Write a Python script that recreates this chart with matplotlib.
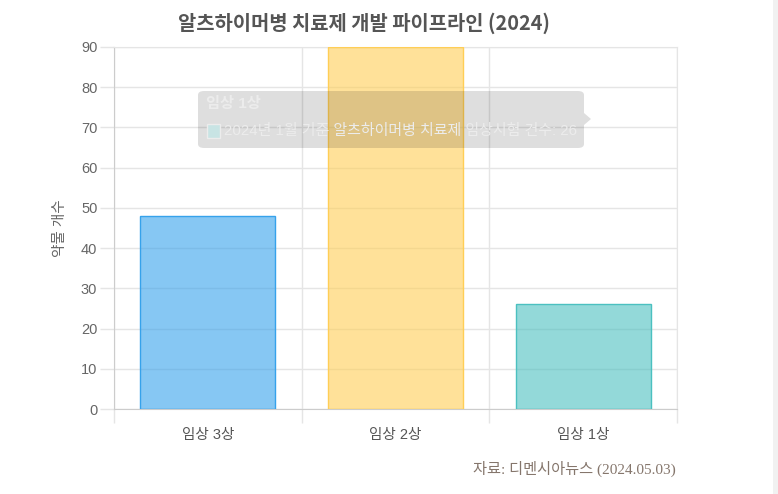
import matplotlib
matplotlib.use('Agg')
import matplotlib.pyplot as plt
from matplotlib.patches import FancyBboxPatch, Rectangle, Polygon

plt.rcParams['font.family'] = ['Liberation Sans', 'Noto Sans CJK KR', 'DejaVu Sans']

# Data
phases = ['임상 3상', '임상 2상', '임상 1상']
counts = [48, 90, 26]
fill_colors = ['#36a2eb', '#ffce56', '#4bc0c0']
edge_colors = ['#36a2eb', '#ffce56', '#4bc0c0']
y_ticks = list(range(0, 100, 10))

title = '알츠하이머병 치료제 개발 파이프라인 (2024)'
y_label = '약물 개수'
source = '자료: 디멘시아뉴스 (2024.05.03)'
tip_title = '임상 1상'
tip_body = '2024년 1월 기준 알츠하이머병 치료제 임상시험 건수: 26'

W, H = 778, 494
fig = plt.figure(figsize=(W / 100, H / 100), dpi=100)


def fx(x):
    return x / W


def fy(y):
    return 1 - y / H


ax = fig.add_axes([fx(114), fy(409), fx(677) - fx(114), fy(47) - fy(409)])

x = list(range(len(phases)))
for i in x:
    ax.bar(i, counts[i], width=0.72, color=fill_colors[i], alpha=0.6,
           edgecolor='none', zorder=3)
    ax.bar(i, counts[i], width=0.72, facecolor='none',
           edgecolor=edge_colors[i], linewidth=1, zorder=4)

ax.set_xlim(-0.5, len(phases) - 0.5)
ax.set_ylim(0, 90)

grid_c = '#e5e5e5'
ax.set_yticks(y_ticks)
ax.set_xticks(x)
ax.set_xticklabels(phases)
ax.set_xticks([i - 0.5 for i in range(len(phases) + 1)], minor=True)
ax.tick_params(axis='x', which='major', length=0, pad=14, labelsize=10.5, labelcolor='#555555')
ax.tick_params(axis='x', which='minor', length=10, color=grid_c, width=1)
ax.tick_params(axis='y', length=10, color=grid_c, width=1, pad=2,
               labelsize=10.5, labelcolor='#666666')
ax.grid(True, axis='y', color=grid_c, linewidth=1, zorder=0)
ax.grid(True, axis='x', which='minor', color=grid_c, linewidth=1, zorder=0)
for s in ['top', 'right']:
    ax.spines[s].set_color(grid_c)
for s in ['left', 'bottom']:
    ax.spines[s].set_color('#cccccc')

ax.set_ylabel(y_label, fontsize=10.5, color='#666666', labelpad=10)

fig.text(fx(364), fy(23), title, ha='center', va='center', fontsize=14.3,
         fontweight='bold', color='#555555', family=['Noto Sans CJK KR'])

fig.text(fx(676), fy(469), source, ha='right', va='center', fontsize=11,
         color='#85766c', family=['Liberation Serif', 'Noto Sans CJK KR'])

# tooltip overlay (fading in)
tip = FancyBboxPatch((fx(198), fy(148)), fx(584) - fx(198), fy(91) - fy(148),
                     boxstyle='round,pad=0,rounding_size=0.008',
                     transform=fig.transFigure, facecolor='black', alpha=0.13,
                     edgecolor='none', zorder=10)
fig.patches.append(tip)
arrow = Polygon([(fx(584), fy(113)), (fx(591), fy(119)), (fx(584), fy(125))],
                closed=True, transform=fig.transFigure, facecolor='black',
                alpha=0.13, edgecolor='none', zorder=10)
fig.patches.append(arrow)
sq = Rectangle((fx(207), fy(138)), fx(220) - fx(207), fy(124) - fy(138),
               transform=fig.transFigure, facecolor='#c8e4e4',
               edgecolor='#ececec', linewidth=1, zorder=11)
fig.patches.append(sq)
fig.text(fx(206), fy(104), tip_title, ha='left', va='center', fontsize=11,
         fontweight='bold', color='#ececec', zorder=12)
fig.text(fx(224), fy(131), tip_body, ha='left', va='center', fontsize=10.8,
         color='#ececec', zorder=12)

# scrollbar strip on the right
fig.patches.append(Rectangle((fx(773), 0), fx(778) - fx(773), 1,
                             transform=fig.transFigure, facecolor='#f1f1f1',
                             edgecolor='none'))

fig.savefig('out.png', dpi=100)
